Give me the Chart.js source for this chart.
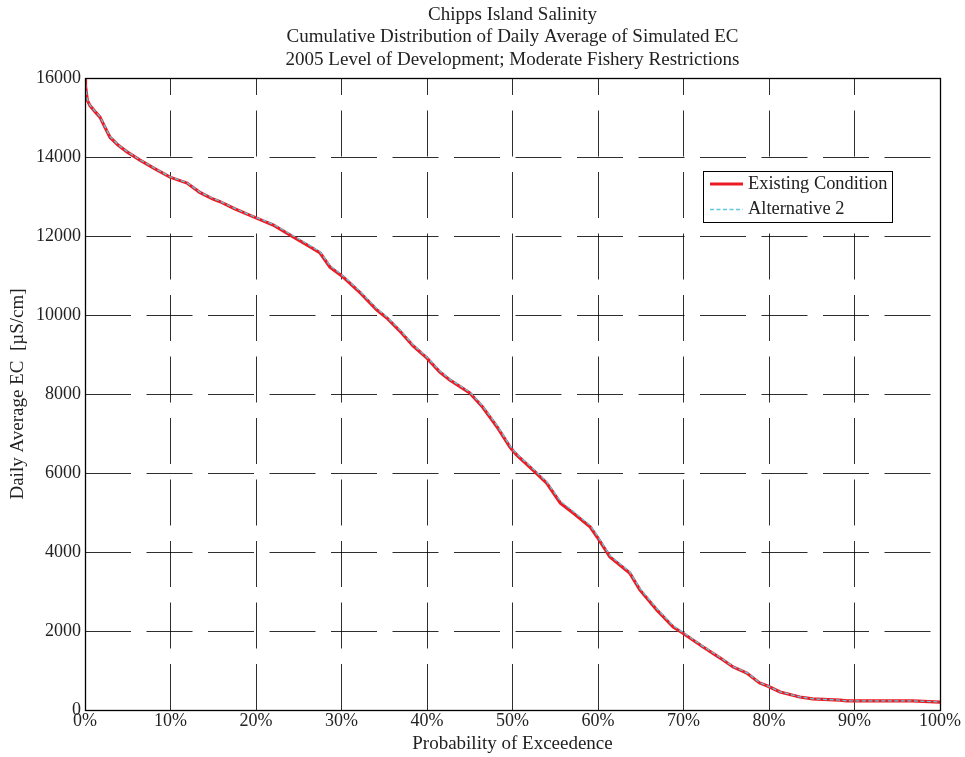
<!DOCTYPE html>
<html>
<head>
<meta charset="utf-8">
<script src="https://cdn.jsdelivr.net/npm/chart.js@4.4.1/dist/chart.umd.min.js"></script>
<style>
  html, body { margin: 0; padding: 0; background: #fff; }
  #wrap { position: relative; width: 965px; height: 757px; }
</style>
</head>
<body>
<div id="wrap"><canvas id="c" width="965" height="757"></canvas></div>
<script>
const titleLines = [
  'Chipps Island Salinity',
  'Cumulative Distribution of Daily Average of Simulated EC',
  '2005 Level of Development; Moderate Fishery Restrictions'
];
const xAxisTitle = 'Probability of Exceedence';
const yAxisTitle = 'Daily Average EC  [\u00B5S/cm]';
const seriesNames = ['Existing Condition', 'Alternative 2'];
const xTickValues = [0, 10, 20, 30, 40, 50, 60, 70, 80, 90, 100];
const yTickValues = [0, 2000, 4000, 6000, 8000, 10000, 12000, 14000, 16000];

// Probability of exceedence (%)
const exceedence = [0, 0.06, 0.27, 0.58, 1.17, 1.75, 2.34, 2.92, 3.86, 4.91, 6.43, 8.19, 9.94, 11.93, 13.45, 14.97, 15.79, 17.5, 19.65, 22.0, 24.0, 26.0, 27.5, 28.65, 30.2, 32.2, 34.15, 35.3, 36.8, 38.4, 40.0, 41.5, 42.7, 45.0, 46.5, 48.2, 49.7, 50.5, 52.4, 54.0, 55.6, 57.1, 59.1, 59.9, 61.4, 63.7, 64.9, 66.9, 68.8, 69.9, 72.3, 74.3, 75.8, 77.4, 78.9, 79.9, 81.3, 83.6, 85.1, 88.3, 89.1, 96.8, 100];
// Daily average EC (uS/cm)
const existingEC = [16000, 15800, 15440, 15300, 15150, 15010, 14750, 14500, 14300, 14130, 13920, 13700, 13490, 13340, 13100, 12935, 12870, 12690, 12490, 12280, 12025, 11770, 11570, 11215, 10960, 10560, 10125, 9925, 9600, 9215, 8910, 8555, 8350, 8025, 7670, 7165, 6660, 6455, 6075, 5745, 5240, 4985, 4630, 4380, 3875, 3470, 3040, 2530, 2100, 1950, 1595, 1315, 1090, 935, 685, 600, 455, 330, 280, 250, 230, 230, 200];
const alternative2EC = [16000, 15820, 15460, 15310, 15160, 15020, 14770, 14520, 14310, 14140, 13930, 13710, 13500, 13350, 13110, 12950, 12880, 12700, 12500, 12300, 12050, 11800, 11600, 11250, 10990, 10590, 10160, 9950, 9630, 9240, 8930, 8580, 8370, 8050, 7700, 7200, 6690, 6480, 6110, 5780, 5290, 5030, 4670, 4420, 3910, 3500, 3080, 2560, 2130, 1970, 1610, 1330, 1100, 945, 695, 605, 460, 335, 282, 252, 232, 232, 205];

const FONT = 'Liberation Serif, Times New Roman, serif';
const RED = '#ec1c24';
const CYAN = '#5fc8e0';

function toPoints(xs, ys) { return xs.map((x, i) => ({ x: x, y: ys[i] })); }

const frameAndText = {
  id: 'frameAndText',
  afterDraw(chart) {
    const ctx = chart.ctx;
    const a = chart.chartArea;
    ctx.save();
    // plot box
    ctx.strokeStyle = '#000';
    ctx.lineWidth = 1.3;
    ctx.strokeRect(a.left + 0.5, a.top + 0.5, a.right - a.left, a.bottom - a.top);
    // title
    ctx.fillStyle = '#222';
    ctx.font = '19px ' + FONT;
    ctx.textAlign = 'center';
    ctx.textBaseline = 'middle';
    const cx = (a.left + a.right) / 2;
    titleLines.forEach((t, i) => ctx.fillText(t, cx, 15 + i * 22.5));
    // legend
    const lx = 703, ly = 171, lw = 189, lh = 51;
    ctx.fillStyle = '#fff';
    ctx.fillRect(lx, ly, lw, lh);
    ctx.strokeStyle = '#000';
    ctx.lineWidth = 1;
    ctx.strokeRect(lx + 0.5, ly + 0.5, lw, lh);
    ctx.lineWidth = 3.2;
    ctx.strokeStyle = RED;
    ctx.beginPath(); ctx.moveTo(710, 184); ctx.lineTo(743, 184); ctx.stroke();
    ctx.lineWidth = 1.3;
    ctx.strokeStyle = CYAN;
    ctx.setLineDash([4, 2.5]);
    ctx.beginPath(); ctx.moveTo(710, 209.5); ctx.lineTo(743, 209.5); ctx.stroke();
    ctx.setLineDash([]);
    ctx.fillStyle = '#222';
    ctx.textAlign = 'left';
    ctx.font = '18.4px ' + FONT;
    ctx.fillText(seriesNames[0], 748, 184);
    ctx.fillText(seriesNames[1], 748, 209);
    ctx.restore();
  }
};

new Chart(document.getElementById('c'), {
  type: 'line',
  data: {
    datasets: [
      {
        label: seriesNames[0],
        data: toPoints(exceedence, existingEC),
        borderColor: RED,
        borderWidth: 3.2,
        pointRadius: 0,
        tension: 0,
        fill: false,
        order: 1
      },
      {
        label: seriesNames[1],
        data: toPoints(exceedence, alternative2EC),
        borderColor: CYAN,
        borderWidth: 1.3,
        borderDash: [4, 2.5],
        pointRadius: 0,
        tension: 0,
        fill: false,
        order: 0
      }
    ]
  },
  options: {
    responsive: false,
    animation: false,
    devicePixelRatio: 1,
    layout: { padding: { left: 0, right: 25, top: 78, bottom: 0 } },
    plugins: {
      legend: { display: false },
      title: { display: false },
      tooltip: { enabled: false }
    },
    scales: {
      x: {
        type: 'linear',
        min: 0, max: 100,
        afterBuildTicks(scale) { scale.ticks = xTickValues.map(v => ({ value: v })); },
        afterFit(scale) { scale.height = 47; },
        ticks: {
          callback: v => v + '%',
          color: '#222',
          font: { family: FONT, size: 18 },
          padding: 0,
          maxRotation: 0,
          autoSkip: false
        },
        grid: { color: 'rgba(0,0,0,0.82)', lineWidth: 1, drawTicks: false },
        border: { display: false, dash: [46, 15.5], dashOffset: 29 },
        title: {
          display: true, text: xAxisTitle, color: '#222',
          font: { family: FONT, size: 19 },
          padding: { top: 0, bottom: 2 }
        }
      },
      y: {
        type: 'linear',
        min: 0, max: 16000,
        afterBuildTicks(scale) { scale.ticks = yTickValues.map(v => ({ value: v })); },
        afterFit(scale) { scale.width = 85; },
        ticks: {
          callback: v => String(v),
          color: '#222',
          font: { family: FONT, size: 18 },
          padding: 4,
          autoSkip: false
        },
        grid: { color: 'rgba(0,0,0,0.82)', lineWidth: 1, drawTicks: false },
        border: { display: false, dash: [46, 15.5], dashOffset: 0 },
        title: {
          display: true, text: yAxisTitle, color: '#222',
          font: { family: FONT, size: 19 },
          padding: { top: 7, bottom: 0 }
        }
      }
    }
  },
  plugins: [frameAndText]
});
</script>
</body>
</html>
